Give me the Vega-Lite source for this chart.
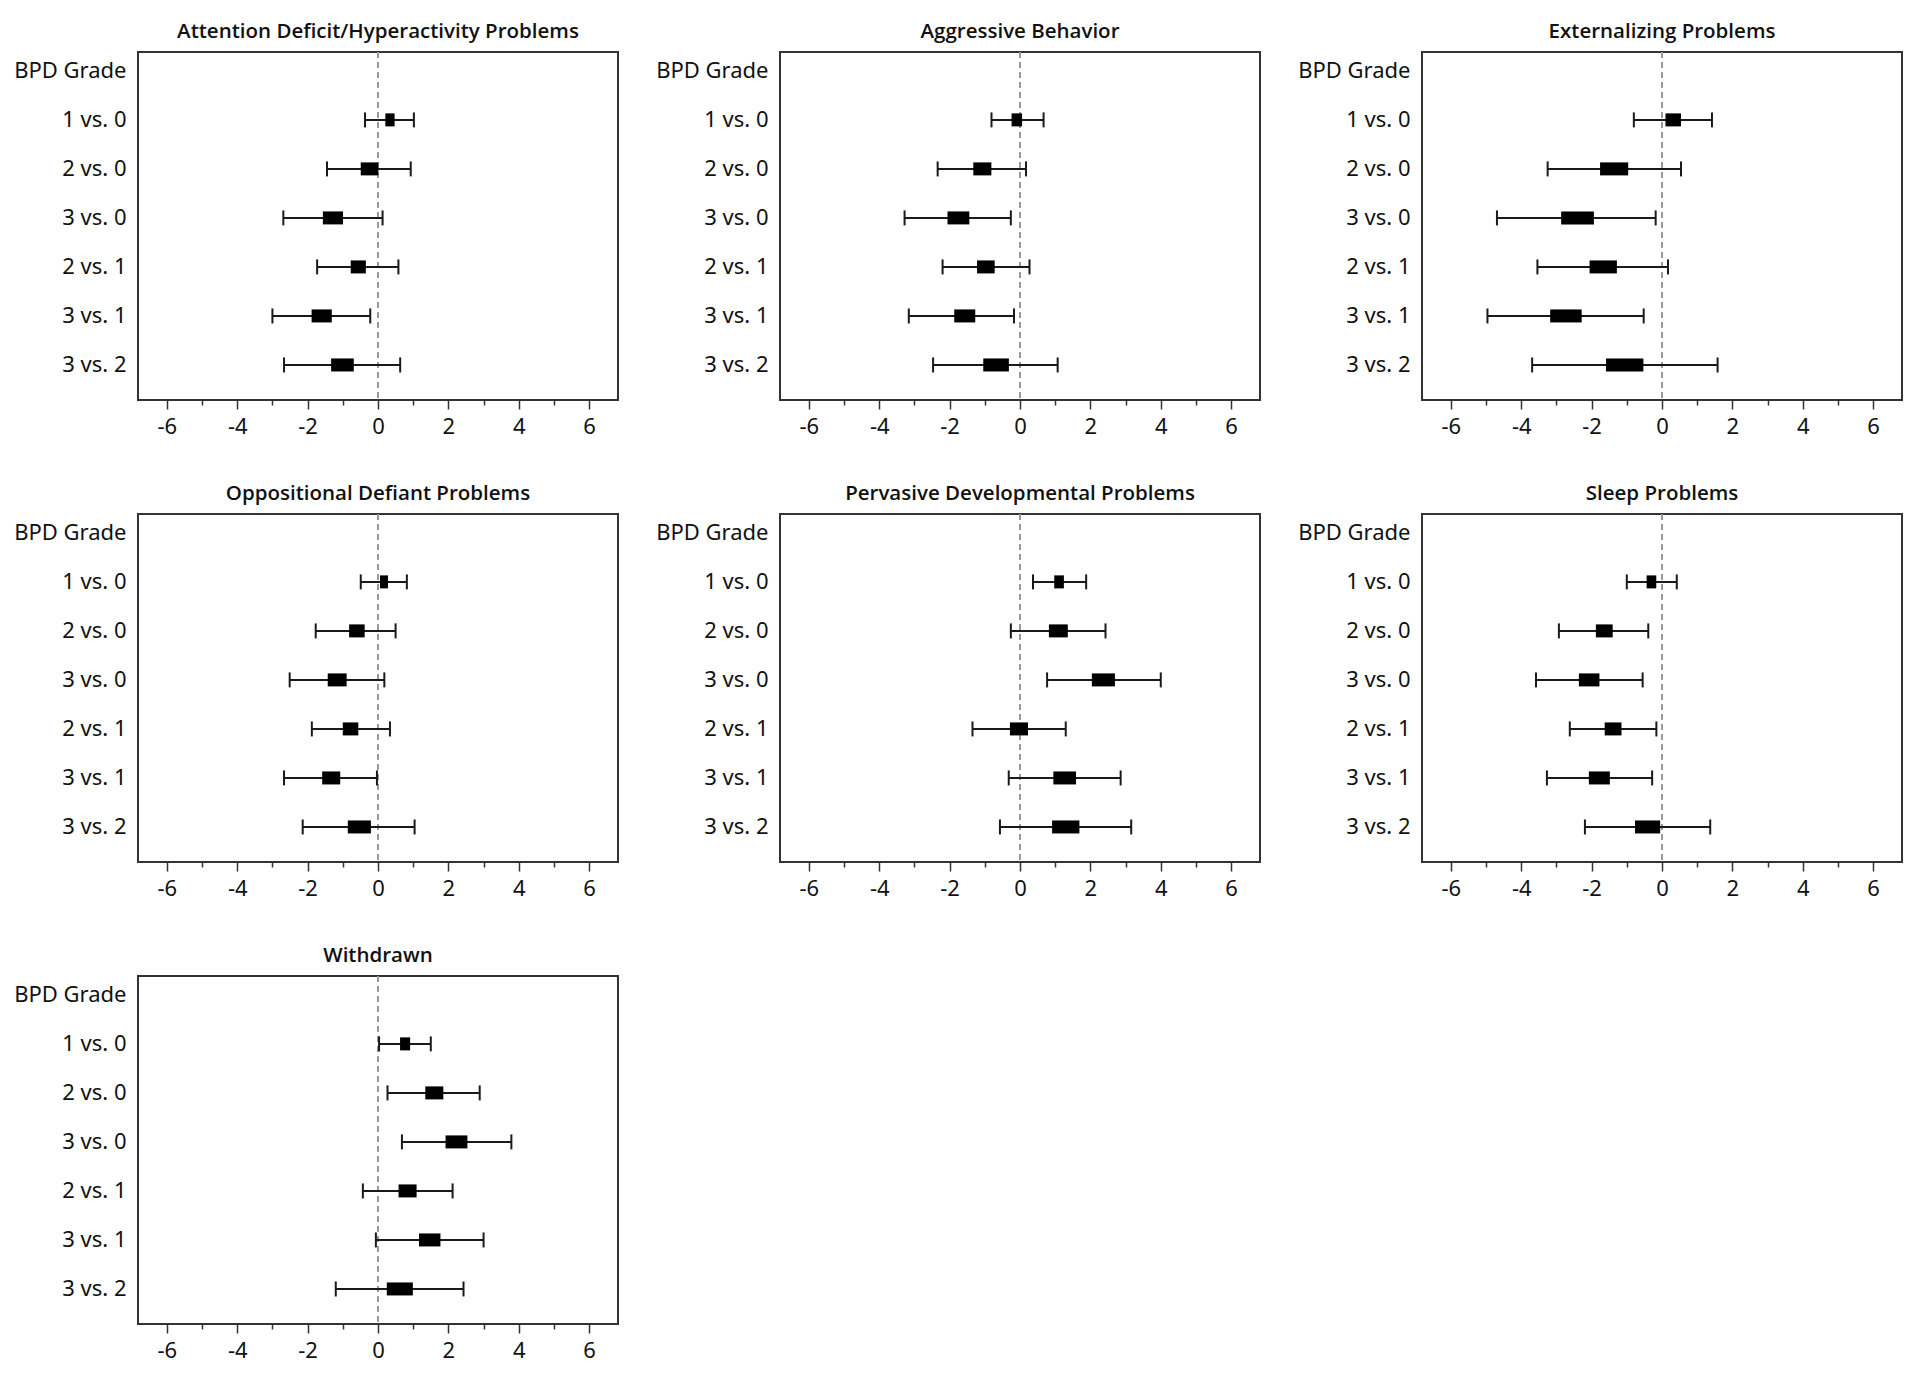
{
  "$schema": "https://vega.github.io/schema/vega-lite/v6.json",
  "padding": {"left": 12, "top": 20, "right": 5, "bottom": 5},
  "background": "white",
  "data": {"values": [
    {"scale": "Attention Deficit/Hyperactivity Problems", "comparison": "1 vs. 0", "est": 0.34, "lo": -0.37, "hi": 1.02, "weight": 22},
    {"scale": "Attention Deficit/Hyperactivity Problems", "comparison": "2 vs. 0", "est": -0.24, "lo": -1.45, "hi": 0.93, "weight": 42},
    {"scale": "Attention Deficit/Hyperactivity Problems", "comparison": "3 vs. 0", "est": -1.28, "lo": -2.69, "hi": 0.13, "weight": 48},
    {"scale": "Attention Deficit/Hyperactivity Problems", "comparison": "2 vs. 1", "est": -0.56, "lo": -1.73, "hi": 0.58, "weight": 36},
    {"scale": "Attention Deficit/Hyperactivity Problems", "comparison": "3 vs. 1", "est": -1.6, "lo": -3.0, "hi": -0.22, "weight": 48},
    {"scale": "Attention Deficit/Hyperactivity Problems", "comparison": "3 vs. 2", "est": -1.01, "lo": -2.67, "hi": 0.63, "weight": 54},
    {"scale": "Aggressive Behavior", "comparison": "1 vs. 0", "est": -0.09, "lo": -0.81, "hi": 0.67, "weight": 25},
    {"scale": "Aggressive Behavior", "comparison": "2 vs. 0", "est": -1.07, "lo": -2.34, "hi": 0.17, "weight": 43},
    {"scale": "Aggressive Behavior", "comparison": "3 vs. 0", "est": -1.75, "lo": -3.28, "hi": -0.26, "weight": 52},
    {"scale": "Aggressive Behavior", "comparison": "2 vs. 1", "est": -0.97, "lo": -2.2, "hi": 0.27, "weight": 42},
    {"scale": "Aggressive Behavior", "comparison": "3 vs. 1", "est": -1.57, "lo": -3.16, "hi": -0.17, "weight": 50},
    {"scale": "Aggressive Behavior", "comparison": "3 vs. 2", "est": -0.68, "lo": -2.47, "hi": 1.07, "weight": 61},
    {"scale": "Externalizing Problems", "comparison": "1 vs. 0", "est": 0.32, "lo": -0.8, "hi": 1.42, "weight": 37},
    {"scale": "Externalizing Problems", "comparison": "2 vs. 0", "est": -1.36, "lo": -3.25, "hi": 0.54, "weight": 67},
    {"scale": "Externalizing Problems", "comparison": "3 vs. 0", "est": -2.4, "lo": -4.69, "hi": -0.18, "weight": 78},
    {"scale": "Externalizing Problems", "comparison": "2 vs. 1", "est": -1.67, "lo": -3.54, "hi": 0.17, "weight": 65},
    {"scale": "Externalizing Problems", "comparison": "3 vs. 1", "est": -2.73, "lo": -4.96, "hi": -0.52, "weight": 75},
    {"scale": "Externalizing Problems", "comparison": "3 vs. 2", "est": -1.06, "lo": -3.69, "hi": 1.58, "weight": 89},
    {"scale": "Oppositional Defiant Problems", "comparison": "1 vs. 0", "est": 0.17, "lo": -0.49, "hi": 0.82, "weight": 19},
    {"scale": "Oppositional Defiant Problems", "comparison": "2 vs. 0", "est": -0.6, "lo": -1.77, "hi": 0.5, "weight": 37},
    {"scale": "Oppositional Defiant Problems", "comparison": "3 vs. 0", "est": -1.16, "lo": -2.51, "hi": 0.18, "weight": 45},
    {"scale": "Oppositional Defiant Problems", "comparison": "2 vs. 1", "est": -0.78, "lo": -1.88, "hi": 0.34, "weight": 37},
    {"scale": "Oppositional Defiant Problems", "comparison": "3 vs. 1", "est": -1.33, "lo": -2.67, "hi": -0.03, "weight": 43},
    {"scale": "Oppositional Defiant Problems", "comparison": "3 vs. 2", "est": -0.53, "lo": -2.14, "hi": 1.04, "weight": 55},
    {"scale": "Pervasive Developmental Problems", "comparison": "1 vs. 0", "est": 1.11, "lo": 0.37, "hi": 1.88, "weight": 23},
    {"scale": "Pervasive Developmental Problems", "comparison": "2 vs. 0", "est": 1.09, "lo": -0.26, "hi": 2.43, "weight": 45},
    {"scale": "Pervasive Developmental Problems", "comparison": "3 vs. 0", "est": 2.37, "lo": 0.77, "hi": 4.0, "weight": 55},
    {"scale": "Pervasive Developmental Problems", "comparison": "2 vs. 1", "est": -0.03, "lo": -1.35, "hi": 1.3, "weight": 43},
    {"scale": "Pervasive Developmental Problems", "comparison": "3 vs. 1", "est": 1.27, "lo": -0.32, "hi": 2.86, "weight": 54},
    {"scale": "Pervasive Developmental Problems", "comparison": "3 vs. 2", "est": 1.3, "lo": -0.57, "hi": 3.16, "weight": 65},
    {"scale": "Sleep Problems", "comparison": "1 vs. 0", "est": -0.3, "lo": -1.0, "hi": 0.42, "weight": 23},
    {"scale": "Sleep Problems", "comparison": "2 vs. 0", "est": -1.64, "lo": -2.93, "hi": -0.39, "weight": 40},
    {"scale": "Sleep Problems", "comparison": "3 vs. 0", "est": -2.07, "lo": -3.58, "hi": -0.55, "weight": 49},
    {"scale": "Sleep Problems", "comparison": "2 vs. 1", "est": -1.39, "lo": -2.62, "hi": -0.16, "weight": 40},
    {"scale": "Sleep Problems", "comparison": "3 vs. 1", "est": -1.78, "lo": -3.27, "hi": -0.28, "weight": 50},
    {"scale": "Sleep Problems", "comparison": "3 vs. 2", "est": -0.41, "lo": -2.19, "hi": 1.37, "weight": 60},
    {"scale": "Withdrawn", "comparison": "1 vs. 0", "est": 0.77, "lo": 0.03, "hi": 1.5, "weight": 24},
    {"scale": "Withdrawn", "comparison": "2 vs. 0", "est": 1.6, "lo": 0.27, "hi": 2.89, "weight": 43},
    {"scale": "Withdrawn", "comparison": "3 vs. 0", "est": 2.23, "lo": 0.68, "hi": 3.79, "weight": 52},
    {"scale": "Withdrawn", "comparison": "2 vs. 1", "est": 0.84, "lo": -0.43, "hi": 2.12, "weight": 43},
    {"scale": "Withdrawn", "comparison": "3 vs. 1", "est": 1.47, "lo": -0.06, "hi": 3.0, "weight": 51},
    {"scale": "Withdrawn", "comparison": "3 vs. 2", "est": 0.62, "lo": -1.2, "hi": 2.43, "weight": 62}
  ]},
  "facet": {
    "field": "scale", "type": "nominal",
    "sort": ["Attention Deficit/Hyperactivity Problems", "Aggressive Behavior", "Externalizing Problems", "Oppositional Defiant Problems", "Pervasive Developmental Problems", "Sleep Problems", "Withdrawn"],
    "header": {"title": null, "labelFontSize": 20.5, "labelFont": "Open Sans", "labelFontWeight": 600, "labelColor": "#111", "labelPadding": 9}
  },
  "columns": 3,
  "spacing": {"row": 44, "column": 35},
  "resolve": {"axis": {"x": "independent", "y": "independent"}},
  "spec": {
    "width": 480,
    "height": 348,
    "layer": [
      {
        "mark": {"type": "rule", "color": "#999999", "strokeWidth": 1.5, "strokeDash": [6, 4]},
        "encoding": {
          "x": {"datum": 0, "type": "quantitative",
            "scale": {"domain": [-6.82, 6.82], "nice": false, "zero": false},
            "axis": {"orient": "bottom", "values": [-5, -3, -1, 1, 3, 5], "tickSize": 5, "labels": false, "domain": false, "grid": false, "title": null, "tickColor": "#333333", "tickWidth": 1.5}}
        }
      },
      {
        "mark": {"type": "rule", "color": "#1a1a1a", "strokeWidth": 2},
        "encoding": {
          "x": {"field": "lo", "type": "quantitative",
            "axis": {"orient": "bottom", "values": [-6, -4, -2, 0, 2, 4, 6], "tickSize": 9, "labelFontSize": 22, "labelPadding": 7, "labelExpr": "'' + datum.value", "domain": false, "grid": false, "title": null, "tickColor": "#333333", "tickWidth": 1.5, "labelColor": "#111111", "labelFont": "Noto Sans"}},
          "x2": {"field": "hi"},
          "y": {"field": "comparison", "type": "nominal",
            "scale": {"type": "point", "domain": ["BPD Grade", "1 vs. 0", "2 vs. 0", "3 vs. 0", "2 vs. 1", "3 vs. 1", "3 vs. 2"], "padding": 0.55, "align": 0.35},
            "axis": {"title": null, "ticks": false, "domain": false, "grid": false, "labelFontSize": 22, "labelPadding": 12, "labelColor": "#111111", "labelFont": "Noto Sans"}}
        }
      },
      {
        "mark": {"type": "rule", "color": "#1a1a1a", "strokeWidth": 2, "yOffset": -7.5, "y2Offset": 7.5},
        "encoding": {
          "x": {"field": "lo", "type": "quantitative", "axis": null},
          "y": {"field": "comparison", "type": "nominal"},
          "y2": {"field": "comparison"}
        }
      },
      {
        "mark": {"type": "rule", "color": "#1a1a1a", "strokeWidth": 2, "yOffset": -7.5, "y2Offset": 7.5},
        "encoding": {
          "x": {"field": "hi", "type": "quantitative", "axis": null},
          "y": {"field": "comparison", "type": "nominal"},
          "y2": {"field": "comparison"}
        }
      },
      {
        "mark": {"type": "rule", "color": "#000000", "strokeCap": "butt", "yOffset": -6.5, "y2Offset": 6.5},
        "encoding": {
          "x": {"field": "est", "type": "quantitative", "axis": null},
          "y": {"field": "comparison", "type": "nominal"},
          "y2": {"field": "comparison"},
          "strokeWidth": {"field": "weight", "type": "quantitative", "scale": {"domain": [0, 100], "range": [0, 42]}, "legend": null}
        }
      }
    ],
    "resolve": {"axis": {"x": "independent"}}
  },
  "config": {
    "font": "Noto Sans",
    "view": {"stroke": "#333333", "strokeWidth": 2}
  }
}
